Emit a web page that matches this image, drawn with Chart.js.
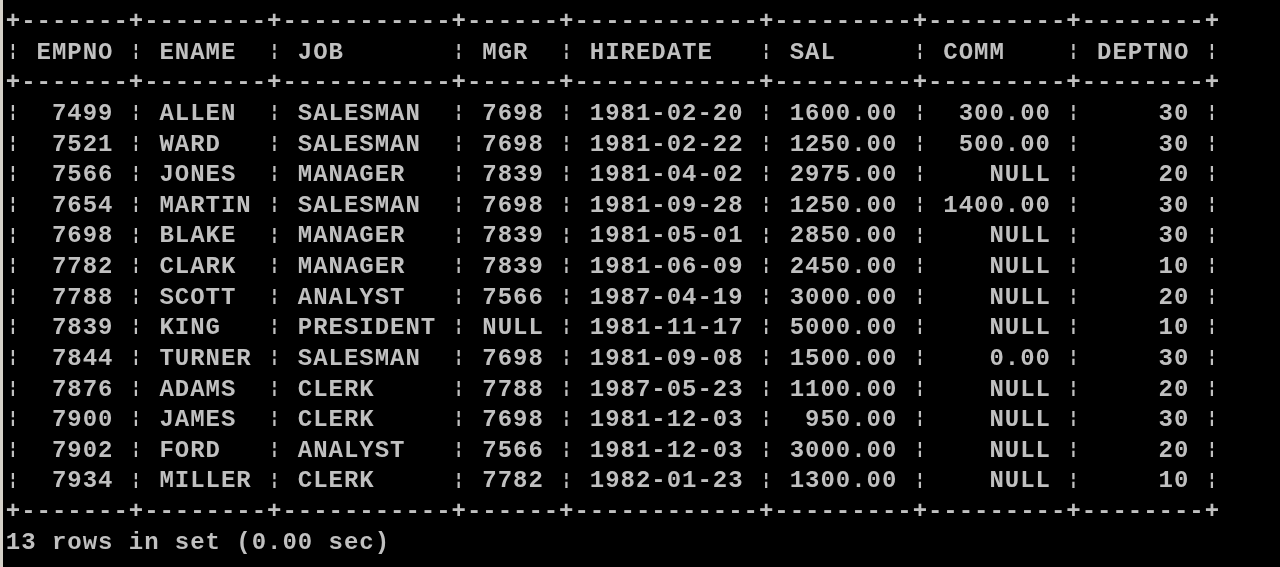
<!DOCTYPE html>
<html>
<head>
<meta charset="utf-8">
<script src="https://cdn.jsdelivr.net/npm/chart.js@4.4.1/dist/chart.umd.min.js"></script>
<style>
  html, body { margin: 0; padding: 0; background: #000; overflow: hidden; }
  #wrap { position: absolute; left: 0; top: 0; width: 1280px; height: 567px; }
</style>
</head>
<body>
<div id="wrap"><canvas id="c" width="1280" height="567"></canvas></div>
<script>
// ---- data ----
const headers  = ['EMPNO', 'ENAME', 'JOB', 'MGR', 'HIREDATE', 'SAL', 'COMM', 'DEPTNO'];
const empno    = [7499, 7521, 7566, 7654, 7698, 7782, 7788, 7839, 7844, 7876, 7900, 7902, 7934];
const ename    = ['ALLEN', 'WARD', 'JONES', 'MARTIN', 'BLAKE', 'CLARK', 'SCOTT', 'KING', 'TURNER', 'ADAMS', 'JAMES', 'FORD', 'MILLER'];
const job      = ['SALESMAN', 'SALESMAN', 'MANAGER', 'SALESMAN', 'MANAGER', 'MANAGER', 'ANALYST', 'PRESIDENT', 'SALESMAN', 'CLERK', 'CLERK', 'ANALYST', 'CLERK'];
const mgr      = [7698, 7698, 7839, 7698, 7839, 7839, 7566, null, 7698, 7788, 7698, 7566, 7782];
const hiredate = ['1981-02-20', '1981-02-22', '1981-04-02', '1981-09-28', '1981-05-01', '1981-06-09', '1987-04-19', '1981-11-17', '1981-09-08', '1987-05-23', '1981-12-03', '1981-12-03', '1982-01-23'];
const sal      = [1600, 1250, 2975, 1250, 2850, 2450, 3000, 5000, 1500, 1100, 950, 3000, 1300];
const comm     = [300, 500, null, 1400, null, null, null, null, 0, null, null, null, null];
const deptno   = [30, 30, 20, 30, 30, 10, 20, 10, 30, 20, 30, 20, 10];
const footer   = '13 rows in set (0.00 sec)';

// ---- build the text grid ----
const asInt = v => v === null ? 'NULL' : String(v);
const asDec = v => v === null ? 'NULL' : v.toFixed(2);
const cols = [
  { vals: empno.map(asInt),  right: true  },
  { vals: ename,             right: false },
  { vals: job,               right: false },
  { vals: mgr.map(asInt),    right: true  },
  { vals: hiredate,          right: false },
  { vals: sal.map(asDec),    right: true  },
  { vals: comm.map(asDec),   right: true  },
  { vals: deptno.map(asInt), right: true  }
];
const widths = cols.map((c, i) => Math.max(headers[i].length, ...c.vals.map(v => v.length)));
const pipes = [];
{ let p = 0; widths.forEach(w => { pipes.push(p); p += w + 3; }); pipes.push(p); }
const border = '+' + widths.map(w => '-'.repeat(w + 2)).join('+') + '+';

const nRows = empno.length;
const LINE_TOP = 0, LINE_HEAD = 1, LINE_SEP = 2, LINE_FIRST = 3;
const LINE_BOTTOM = LINE_FIRST + nRows, LINE_FOOT = LINE_BOTTOM + 1;

// frame: borders and column bars
const framePts = [];
[LINE_TOP, LINE_SEP, LINE_BOTTOM].forEach(y => framePts.push({ x: 0, y: y, t: border }));
for (let y = LINE_HEAD; y < LINE_BOTTOM; y++) {
  if (y === LINE_SEP) continue;
  pipes.forEach(p => framePts.push({ x: p, y: y, t: '|' }));
}
// header cells
const headPts = headers.map((h, i) => ({ x: pipes[i] + 2, y: LINE_HEAD, t: h }));
// data cells, one dataset per column
const colDatasets = cols.map((c, ci) => ({
  label: headers[ci],
  data: c.vals.map((v, r) => ({
    x: pipes[ci] + 2 + (c.right ? widths[ci] - v.length : 0),
    y: LINE_FIRST + r,
    t: v
  })),
  pointRadius: 0, pointHoverRadius: 0
}));
const footPts = [{ x: 0, y: LINE_FOOT, t: footer }];

// ---- geometry of the console grid (char cell pitch) ----
const CW = 15.37, CH = 30.63, X0 = 13, Y0 = 20;
const W = 1280, H = 567;
const xMin = -X0 / CW, xMax = xMin + W / CW;
const yMin = -Y0 / CH, yMax = yMin + H / CH;

const TEXT_COLOR = '#c0c0c0';
const FAMILY = '"Liberation Mono", "DejaVu Sans Mono", monospace';
const FONT = 'bold 24px ' + FAMILY;
const BAR_HEIGHT = 16.5;

const consolePlugin = {
  id: 'consoleText',
  beforeDraw(chart) {
    const ctx = chart.ctx;
    ctx.save();
    ctx.fillStyle = '#000';
    ctx.fillRect(0, 0, chart.width, chart.height);
    ctx.fillStyle = '#d4d0c8';
    ctx.fillRect(0, 0, 3, chart.height);
    ctx.restore();
  },
  afterDatasetsDraw(chart) {
    const ctx = chart.ctx;
    const xs = chart.scales.x, ys = chart.scales.y;
    ctx.save();
    ctx.fillStyle = TEXT_COLOR;
    ctx.textAlign = 'center';
    ctx.textBaseline = 'alphabetic';
    // size the broken bar so it is as tall as the capitals
    ctx.font = 'bold 24px ' + FAMILY;
    const m = ctx.measureText('\u00A6');
    const full = m.actualBoundingBoxAscent + m.actualBoundingBoxDescent;
    const barSize = 24 * BAR_HEIGHT / full;
    const barAsc = m.actualBoundingBoxAscent * barSize / 24;
    const barDesc = m.actualBoundingBoxDescent * barSize / 24;
    const barFont = 'bold ' + barSize.toFixed(2) + 'px ' + FAMILY;
    chart.data.datasets.forEach(ds => {
      ds.data.forEach(p => {
        const cy = ys.getPixelForValue(p.y);
        for (let i = 0; i < p.t.length; i++) {
          const ch = p.t[i];
          if (ch === ' ') continue;
          const px = xs.getPixelForValue(p.x + i);
          if (ch === '|') {
            ctx.font = barFont;
            ctx.fillText('\u00A6', px, cy + 0.5 + (barAsc - barDesc) / 2);
          } else {
            ctx.font = FONT;
            ctx.fillText(ch, px, cy + 8);
          }
        }
      });
    });
    ctx.restore();
  }
};

new Chart(document.getElementById('c'), {
  type: 'scatter',
  data: {
    datasets: [
      { label: 'frame', data: framePts, pointRadius: 0, pointHoverRadius: 0 },
      { label: 'header', data: headPts, pointRadius: 0, pointHoverRadius: 0 },
      ...colDatasets,
      { label: 'footer', data: footPts, pointRadius: 0, pointHoverRadius: 0 }
    ]
  },
  options: {
    responsive: false,
    animation: false,
    events: [],
    layout: { padding: 0 },
    plugins: { legend: { display: false }, tooltip: { enabled: false } },
    scales: {
      x: { type: 'linear', display: false, min: xMin, max: xMax },
      y: { type: 'linear', display: false, reverse: true, min: yMin, max: yMax }
    }
  },
  plugins: [consolePlugin]
});
</script>
</body>
</html>
